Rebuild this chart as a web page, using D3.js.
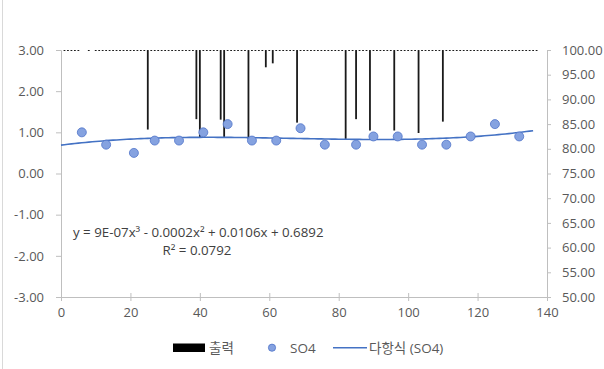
<!DOCTYPE html>
<html>
<head>
<meta charset="utf-8">
<script src="https://cdn.jsdelivr.net/npm/d3@7"></script>
<style>
  body { margin: 0; background: #fff; }
  svg { display: block; font-family: "Open Sans", "Noto Sans CJK KR", sans-serif; }
</style>
</head>
<body>
<svg id="chart" width="604" height="369"></svg>
<script>
// SO4 scatter (left axis)
var so4X = [6, 13, 21, 27, 34, 41, 48, 55, 62, 69, 76, 85, 90, 97, 104, 111, 118, 125, 132];
var so4Y = [1.0, 0.7, 0.5, 0.8, 0.8, 1.0, 1.2, 0.8, 0.8, 1.1, 0.7, 0.7, 0.9, 0.9, 0.7, 0.7, 0.9, 1.2, 0.9];

// 출력 columns (right axis), one per x = 1..137, hanging from 100
var outputValues = [
  99.8, 99.8, 99.8, 99.8, 99.8, 100, 100, 99.8, 100, 99.8,
  99.8, 99.8, 99.8, 99.8, 99.8, 99.8, 99.8, 99.8, 99.8, 99.8,
  99.8, 99.8, 99.8, 99.8, 83.9, 99.8, 99.8, 99.8, 99.8, 99.8,
  99.8, 99.8, 99.8, 99.8, 99.8, 99.8, 99.8, 99.8, 86.0, 82.4,
  99.8, 99.8, 99.8, 99.8, 99.8, 85.9, 82.4, 99.8, 99.8, 99.8,
  99.8, 99.8, 99.8, 82.0, 99.8, 99.8, 99.8, 99.8, 96.5, 99.8,
  97.3, 99.8, 99.8, 99.8, 99.8, 99.8, 99.8, 85.3, 99.8, 99.8,
  99.8, 99.8, 99.8, 99.8, 99.8, 99.8, 99.8, 99.8, 99.8, 99.8,
  99.8, 82.0, 99.8, 99.8, 86.0, 99.8, 99.8, 99.8, 83.7, 99.8,
  99.8, 99.8, 99.8, 99.8, 99.8, 83.7, 99.8, 99.8, 99.8, 99.8,
  99.8, 99.8, 83.2, 99.8, 99.8, 99.8, 99.8, 99.8, 99.8, 85.5,
  99.8, 99.8, 99.8, 99.8, 99.8, 99.8, 99.8, 99.8, 99.8, 99.8,
  99.8, 99.8, 99.8, 99.8, 99.8, 99.8, 99.8, 99.8, 99.8, 99.8,
  99.8, 99.8, 99.8, 99.8, 99.8, 99.8, 99.8
];

var xTicks = [0, 20, 40, 60, 80, 100, 120, 140];
var leftTicks = [-3, -2, -1, 0, 1, 2, 3];
var rightTicks = [50, 55, 60, 65, 70, 75, 80, 85, 90, 95, 100];
var trendRange = [0, 136];
var eqLines = ["y = 9E-07x³ - 0.0002x² + 0.0106x + 0.6892", "R² = 0.0792"];
var legendLabels = ["출력", "SO4", "다항식 (SO4)"];

var svg = d3.select("#chart");
var axisCol = "#bfbfbf", textCol = "#595959";

var x = d3.scaleLinear().domain([0, 140]).range([61, 547]);
var yL = d3.scaleLinear().domain([-3, 3]).range([297, 50]);
var yR = d3.scaleLinear().domain([50, 100]).range([297, 50]);

// chart area border (left edge)
svg.append("line").attr("x1", 2.5).attr("x2", 2.5).attr("y1", 0).attr("y2", 369)
  .attr("stroke", "#d9d9d9");

// axes
function styleAxis(g) {
  g.select(".domain").attr("stroke", axisCol);
  g.selectAll(".tick line").attr("stroke", axisCol);
  g.selectAll(".tick text").attr("fill", textCol).style("font-size", "13px")
    .style("font-family", "'Open Sans', sans-serif");
}

svg.append("g").attr("transform", "translate(61,0)")
  .call(d3.axisLeft(yL).tickValues(leftTicks).tickSize(5).tickPadding(12)
    .tickFormat(function(d) { return d.toFixed(2); }))
  .call(styleAxis);

svg.append("g").attr("transform", "translate(547,0)")
  .call(d3.axisRight(yR).tickValues(rightTicks).tickSize(4).tickPadding(11)
    .tickFormat(function(d) { return d.toFixed(2); }))
  .call(styleAxis);

var xg = svg.append("g").attr("transform", "translate(0,297)")
  .call(d3.axisBottom(x).tickValues(xTicks).tickSize(5).tickPadding(6).tickSizeOuter(0))
  .call(styleAxis);
xg.selectAll(".tick line").attr("y1", -4).attr("y2", 4);

// columns, hanging down from the top of the secondary axis
svg.append("g").selectAll("rect").data(outputValues).join("rect")
  .attr("x", function(d, i) { return x(i + 1) - 0.9; })
  .attr("y", yR(100))
  .attr("width", 1.8)
  .attr("height", function(d) { return yR(d) - yR(100); })
  .attr("fill", "#1a1a1a");

// cubic least-squares trendline of SO4
function cubicFit(xs, ys) {
  var n = 4, A = [], b = [];
  for (var r = 0; r < n; r++) {
    A.push([]);
    for (var c = 0; c < n; c++) A[r].push(d3.sum(xs, function(v) { return Math.pow(v, r + c); }));
    b.push(d3.sum(xs, function(v, k) { return ys[k] * Math.pow(v, r); }));
  }
  for (var p = 0; p < n; p++) {
    for (var q = p + 1; q < n; q++) {
      var f = A[q][p] / A[p][p];
      for (var c2 = p; c2 < n; c2++) A[q][c2] -= f * A[p][c2];
      b[q] -= f * b[p];
    }
  }
  var coef = [0, 0, 0, 0];
  for (var i = n - 1; i >= 0; i--) {
    var s = b[i];
    for (var j = i + 1; j < n; j++) s -= A[i][j] * coef[j];
    coef[i] = s / A[i][i];
  }
  return coef;
}
var coef = cubicFit(so4X, so4Y);
var trendPts = d3.range(trendRange[0], trendRange[1] + 0.5, 1).map(function(v) {
  return [v, coef[0] + coef[1] * v + coef[2] * v * v + coef[3] * v * v * v];
});
svg.append("path").datum(trendPts)
  .attr("d", d3.line().x(function(d) { return x(d[0]); }).y(function(d) { return yL(d[1]); }))
  .attr("fill", "none").attr("stroke", "#4472c4").attr("stroke-width", 1.6);

// scatter
svg.append("g").selectAll("circle").data(so4X).join("circle")
  .attr("cx", function(d) { return x(d); })
  .attr("cy", function(d, i) { return yL(so4Y[i]); })
  .attr("r", 4.5)
  .attr("fill", "#85a2e0").attr("stroke", "#4f73c9").attr("stroke-width", 0.8);

// equation
svg.append("g").selectAll("text").data(eqLines).join("text")
  .attr("x", function(d, i) { return i === 0 ? 73 : 197; })
  .attr("y", function(d, i) { return 237 + i * 17.5; })
  .attr("text-anchor", function(d, i) { return i === 0 ? "start" : "middle"; })
  .attr("fill", "#404040").style("font-size", "13.3px")
  .text(function(d) { return d; });

// legend
var lg = svg.append("g").style("font-size", "13.5px").attr("fill", textCol);
lg.append("rect").attr("x", 173).attr("y", 343.5).attr("width", 32).attr("height", 8.5).attr("fill", "#000");
lg.append("text").attr("x", 209).attr("y", 352.5).text(legendLabels[0]);
lg.append("circle").attr("cx", 272).attr("cy", 347.7).attr("r", 3.6)
  .attr("fill", "#85a2e0").attr("stroke", "#4f73c9").attr("stroke-width", 0.8);
lg.append("text").attr("x", 290).attr("y", 352.5).text(legendLabels[1]);
lg.append("line").attr("x1", 333).attr("x2", 367).attr("y1", 347.7).attr("y2", 347.7)
  .attr("stroke", "#4472c4").attr("stroke-width", 1.6);
lg.append("text").attr("x", 369).attr("y", 352.5).text(legendLabels[2]);
</script>
</body>
</html>
